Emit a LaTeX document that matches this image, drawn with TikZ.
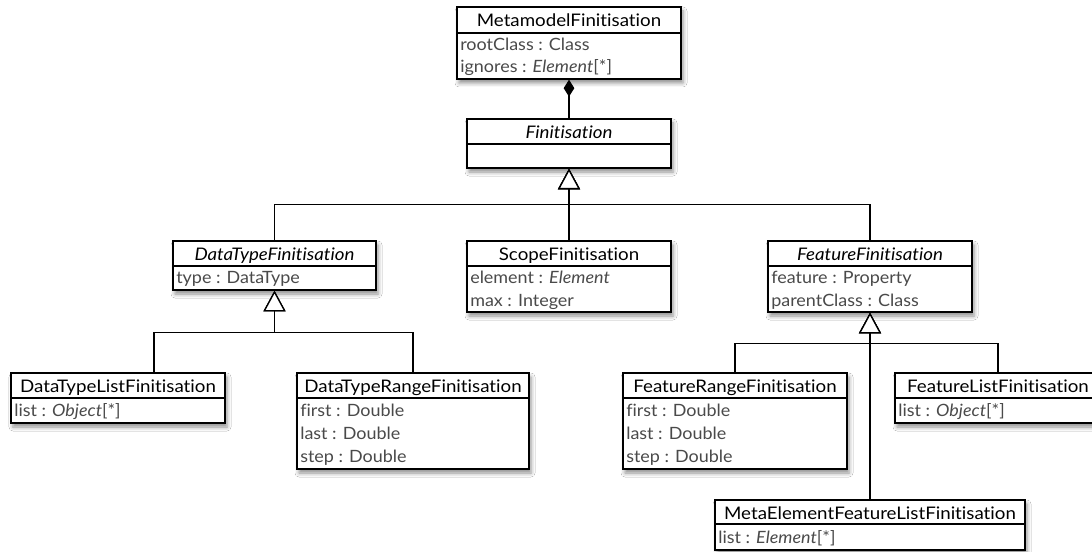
\documentclass[tikz,border=0pt]{standalone}
\usepackage{fontspec}
\setmainfont{Lato}[Ligatures=NoCommon]
\newfontfamily\titlefont{Lato}[Ligatures=NoCommon, FakeStretch=1.08]
\newfontfamily\attrfont{Lato}[Ligatures=NoCommon, FakeStretch=1.06]
\usetikzlibrary{calc,fit,arrows.meta,shadows.blur}

\definecolor{attrgray}{HTML}{4A4A4A}

\tikzset{
  classbox/.style={draw, line width=1pt, fill=white, inner sep=0pt,
    blur shadow={shadow xshift=1.5pt, shadow yshift=-3pt,
                 shadow blur radius=3pt, shadow opacity=45}},
  classtitle/.style={font=\titlefont\fontsize{13}{15}\selectfont, text=black,
    inner sep=0pt, anchor=base},
  attr/.style={font=\attrfont\fontsize{12.7}{15}\selectfont, text=attrgray,
    inner sep=0pt, anchor=base west},
  sepline/.style={line width=0.9pt},
  gen/.style={line width=1pt,
    -{Triangle[open, fill=white, length=15.5pt, width=16.5pt]}},
  comp/.style={line width=1pt, -{Diamond[length=12.75pt, width=8pt]}},
}

% \umlclass{name}{left}{top}{right}{bottom}{separator y}{title}
\newcommand\umlclass[7]{%
  \node[classbox, fit={(#2,#3) (#4,#5)}] (#1) {};
  \draw[sepline] (#2,#6) -- (#4,#6);
  \node[classtitle] (#1-title) at ({(#2+#4)/2},{#3+19.5}) {#7};
}

\begin{document}
\begin{tikzpicture}[x=0.75pt, y=-0.75pt]
  \useasboundingbox (0,0) rectangle (1092,552);
  \clip (0,0) rectangle (1092,552);
  \fill[white] (0,0) rectangle (1092,552);

  % classes
  \umlclass{mf}{457}{7}{681}{79}{33}{MetamodelFinitisation}
  \node[attr] (mf-a1) at (460,51) {rootClass : Class};
  \node[attr] (mf-a2) at (460,73) {ignores : \textit{Element}[*]};

  \umlclass{fin}{467}{119}{671}{168}{144}{\textit{Finitisation}}

  \umlclass{dtf}{173}{241}{376}{290}{266}{\textit{DataTypeFinitisation}}
  \node[attr] (dtf-a1) at (176,284) {type : DataType};

  \umlclass{sf}{467}{241}{671}{312}{266}{ScopeFinitisation}
  \node[attr] (sf-a1) at (470,284) {element : \textit{Element}};
  \node[attr] (sf-a2) at (470,306) {max : Integer};

  \umlclass{ff}{768}{241}{972}{312}{266}{\textit{FeatureFinitisation}}
  \node[attr] (ff-a1) at (771,284) {feature : Property};
  \node[attr] (ff-a2) at (771,306) {parentClass : Class};

  \umlclass{dtl}{11}{373}{225}{423}{398}{DataTypeListFinitisation}
  \node[attr] (dtl-a1) at (14,416) {list : \textit{Object}[*]};

  \umlclass{dtr}{297}{373}{529}{469}{398}{DataTypeRangeFinitisation}
  \node[attr] (dtr-a1) at (300,416) {first : Double};
  \node[attr] (dtr-a2) at (300,439) {last : Double};
  \node[attr] (dtr-a3) at (300,462) {step : Double};

  \umlclass{frf}{623}{373}{847}{469}{398}{FeatureRangeFinitisation}
  \node[attr] (frf-a1) at (626,416) {first : Double};
  \node[attr] (frf-a2) at (626,439) {last : Double};
  \node[attr] (frf-a3) at (626,462) {step : Double};

  \umlclass{flf}{895}{373}{1101}{423}{398}{FeatureListFinitisation}
  \node[attr] (flf-a1) at (898,416) {list : \textit{Object}[*]};

  \umlclass{mef}{715}{500}{1025}{550}{524}{MetaElementFeatureListFinitisation}
  \node[attr] (mef-a1) at (718,543) {list : \textit{Element}[*]};

  % composition
  \draw[comp] (fin.north) -- (mf.south);

  % generalisations
  \draw[gen] (dtf.north) |- ($(fin.south)+(0,36)$) -- (fin.south);
  \draw[gen] (ff.north) |- ($(fin.south)+(0,36)$) -- (fin.south);
  \draw[gen] (sf.north) -- (fin.south);

  \draw[gen] ($(dtl.north)+(36,0)$) |- ($(dtf.south)+(0,42)$) -- (dtf.south);
  \draw[gen] (dtr.north) |- ($(dtf.south)+(0,42)$) -- (dtf.south);

  \draw[gen] (frf.north) |- ($(ff.south)+(0,31)$) -- (ff.south);
  \draw[gen] (flf.north) |- ($(ff.south)+(0,31)$) -- (ff.south);
  \draw[gen] (mef.north) -- (ff.south);
\end{tikzpicture}
\end{document}
